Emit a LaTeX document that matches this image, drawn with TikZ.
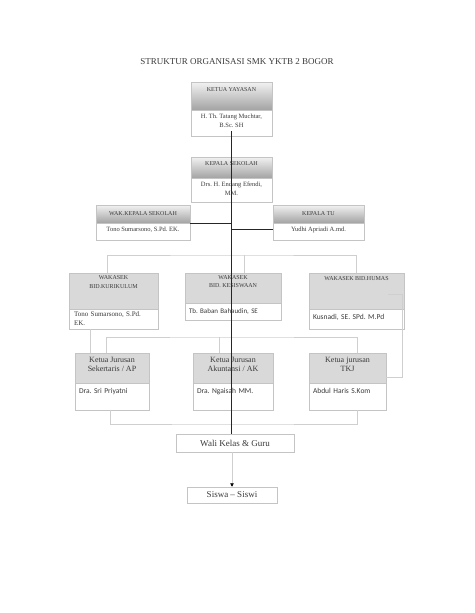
\documentclass[tikz,border=0pt]{standalone}
\usepackage{fontspec}
\setmainfont{Liberation Serif}
\newfontfamily\namefont{Carlito}
\usepackage{tikz}
\usetikzlibrary{arrows.meta}
\definecolor{txtgray}{HTML}{3A3A3A}
\definecolor{boxline}{HTML}{C4C4C4}
\definecolor{linegray}{HTML}{CFCFCF}
\definecolor{headtop}{HTML}{F2F2F2}
\definecolor{headbot}{HTML}{A3A3A3}
\definecolor{headflat}{HTML}{D9D9D9}
\frenchspacing

\begin{document}
\begin{tikzpicture}[x=1pt, y=-1pt,
    box/.style={rectangle, draw=boxline, line width=0.5pt, inner sep=1pt, text=txtgray, align=center},
    headgrad/.style={box, top color=headtop, bottom color=headbot, font=\fontsize{6}{8.5}\selectfont},
    headplain/.style={box, fill=headflat, font=\fontsize{6}{8.5}\selectfont},
    headjur/.style={box, fill=headflat, font=\fontsize{8}{9}\selectfont},
    bodybox/.style={box, fill=white, font=\fontsize{6.5}{8.5}\selectfont},
    namebox/.style={box, fill=white, align=left, inner xsep=4pt, font=\namefont\fontsize{7.5}{9}\selectfont},
    plainbox/.style={box, fill=white, font=\fontsize{9}{10}\selectfont},
    subline/.style={draw=linegray, line width=0.7pt},
    mainline/.style={draw=black!85, line width=1.1pt}
]
\useasboundingbox (0,0) rectangle (474,613);
\node[text=txtgray, font=\fontsize{9}{10}\selectfont] (judul) at (237,62) {STRUKTUR ORGANISASI SMK YKTB 2 BOGOR};

% ketua yayasan & kepala sekolah
\node[headgrad, minimum width=81pt, minimum height=28pt, text depth=13pt] (kyh) at (231.5,96) {KETUA YAYASAN};
\node[bodybox, minimum width=81pt, minimum height=26pt, text depth=5pt] (kyb) at (231.5,123) {H. Th. Tatang Muchtar,\\B.Sc. SH};
\node[headgrad, minimum width=81pt, minimum height=21pt, text depth=8pt] (ksh) at (231.5,167.5) {KEPALA SEKOLAH};
\node[bodybox, minimum width=81pt, minimum height=24pt, text depth=3pt] (ksb) at (231.5,190) {Drs. H. Endang Efendi,\\MM.};

% wakil & tata usaha
\node[headgrad, minimum width=94pt, minimum height=18pt] (wksh) at (143,214) {WAK.KEPALA SEKOLAH};
\node[bodybox, minimum width=94pt, minimum height=17pt, text depth=4pt] (wksb) at (143,231.5) {Tono Sumarsono, S.Pd. EK.};
\node[headgrad, minimum width=91pt, minimum height=18pt] (ktuh) at (318.5,214) {KEPALA TU};
\node[bodybox, minimum width=91pt, minimum height=17pt, text depth=4pt] (ktub) at (318.5,231.5) {Yudhi Apriadi A.md.};

% wakasek
\node[headplain, minimum width=89pt, minimum height=36pt, text depth=18pt] (kurh) at (113.5,291) {WAKASEK\\BID.KURIKULUM};
\node[bodybox, align=left, text width=79pt, inner xsep=5pt, minimum height=20pt, font=\fontsize{7}{9}\selectfont] (kurb) at (113.5,319) {Tono Sumarsono, S.Pd.\\EK.};
\node[headplain, minimum width=96pt, minimum height=30pt, text depth=12.5pt] (kesh) at (233,288) {WAKASEK\\BID. KESISWAAN};
\node[namebox, text width=88pt, minimum height=17pt, font=\namefont\fontsize{7}{9}\selectfont] (kesb) at (233,311.5) {Tb. Baban Bahaudin, SE};
\node[headplain, minimum width=95pt, minimum height=36pt, text depth=25pt] (humh) at (356.5,291) {WAKASEK BID.HUMAS};
\node[namebox, text width=87pt, minimum height=20pt, text depth=5pt] (humb) at (356.5,319) {Kusnadi, SE. SPd. M.Pd};

% ketua jurusan
\node[headjur, minimum width=74pt, minimum height=30pt, text depth=7pt] (sekh) at (112,368) {Ketua Jurusan\\Sekertaris / AP};
\node[namebox, text width=66pt, minimum height=27pt, text depth=11pt] (sekb) at (112,396.5) {Dra. Sri Priyatni};
\node[headjur, minimum width=80pt, minimum height=30pt, text depth=7pt] (akh) at (233,368) {Ketua Jurusan\\Akuntansi / AK};
\node[namebox, text width=72pt, minimum height=27pt, text depth=11pt] (akb) at (233,396.5) {Dra. Ngaisah MM.};
\node[headjur, minimum width=77pt, minimum height=30pt, text depth=7pt] (tkjh) at (347.5,368) {Ketua jurusan\\TKJ};
\node[namebox, text width=69pt, minimum height=27pt, text depth=11pt] (tkjb) at (347.5,396.5) {Abdul Haris S.Kom};

% wali kelas & siswa
\node[plainbox, minimum width=118pt, minimum height=18pt] (wali) at (235,443) {Wali Kelas \& Guru};
\node[plainbox, minimum width=90pt, minimum height=16pt] (siswa) at (232,495) {Siswa -- Siswi};

% connectors
\coordinate (wabar) at (232,255);
\coordinate (kjbar) at (232,337);
\coordinate (kjbot) at (232,424);
\coordinate (humbend) at (402,377);
\draw[subline] ([xshift=-6.5pt]kurh.north) |- (wabar) -| (humh.north);
\draw[subline] ([xshift=11pt]kesh.north) -- ([xshift=11pt]kesh.north |- wabar);
\draw[subline] ([shift={(-16pt,-3pt)}]humh.east) -| (humbend) -- (humbend -| tkjh.east);
\draw[subline] ([xshift=-23.5pt]kurb.south) -- ([xshift=-23.5pt]kurb.south |- sekh.north);
\draw[subline] ([xshift=-6pt]sekh.north) |- (kjbar) -| ([xshift=9.5pt]tkjh.north);
\draw[subline] ([xshift=-14pt]akh.north) -- ([xshift=-14pt]akh.north |- kjbar);
\draw[subline] ([xshift=-2pt]sekb.south) |- (kjbot) -| ([xshift=9.5pt]tkjb.south);
\draw[subline, -{Triangle[length=3.5pt, width=3.5pt, color=black]}] (wali.south -| siswa.north) -- (siswa.north);
\draw[mainline] ([yshift=5pt]kyb.south) -- (kyb.south |- wali.north);
\draw[mainline] (wksh.south east) -- (wksh.south east -| kyb.south);
\draw[mainline] ([yshift=2pt]ktub.west -| kyb.south) -- ([yshift=2pt]ktub.west);
\end{tikzpicture}
\end{document}
